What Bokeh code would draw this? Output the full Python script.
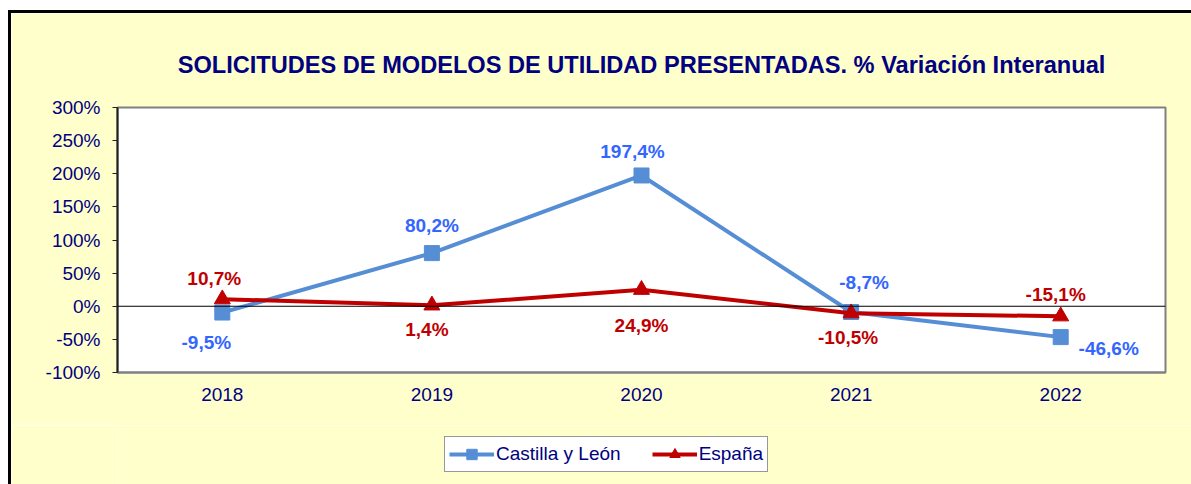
from bokeh.plotting import figure
from bokeh.layouts import column
from bokeh.models import (FactorRange, Range1d, FixedTicker, PrintfTickFormatter,
                          Span, Legend, LegendItem, ColumnDataSource)
from bokeh.core.properties import value
from bokeh.embed import file_html
from bokeh.resources import INLINE

# ---- data ----
years = ["2018", "2019", "2020", "2021", "2022"]
castilla_leon = [-9.5, 80.2, 197.4, -8.7, -46.6]
espana = [10.7, 1.4, 24.9, -10.5, -15.1]
y_ticks = [-100, -50, 0, 50, 100, 150, 200, 250, 300]
series_names = ["Castilla y León", "España"]

# label offsets (screen px)
cyl_dx = [-16, 0, -9, 13, 48]
cyl_dy = [30, -28, -24, -30, 11]
esp_dx = [-8, -5, 0, -3, -5]
esp_dy = [-21, 24, 36, 24, -22]

FONT = "Liberation Sans"
NAVY = "#000080"
BLUE_LINE = "#558ED5"
BLUE_TXT = "#3366FF"
RED = "#C00000"
BG = "#FFFFCC"


def fmt(v):
    return f"{v:.1f}".replace(".", ",") + "%"


p = figure(x_range=FactorRange(factors=years, range_padding=0),
           y_range=Range1d(-100, 300),
           frame_width=1045, frame_height=262,
           min_border_left=106, min_border_right=29,
           min_border_top=94, min_border_bottom=56,
           output_backend="svg", toolbar_location=None,
           title="SOLICITUDES DE MODELOS DE UTILIDAD PRESENTADAS. % Variación Interanual")

p.styles = {"border-left": "3px solid black", "border-top": "3px solid black",
            "margin-top": "10px", "margin-left": "8px"}
p.background_fill_color = "white"
p.border_fill_color = BG
p.outline_line_color = "#808080"
p.outline_line_width = 2
p.xgrid.visible = False
p.ygrid.visible = False

p.title.align = "center"
p.title.text_font = FONT
p.title.text_font_size = "23.6px"
p.title.text_font_style = "bold"
p.title.text_color = NAVY
p.title.standoff = 59

# axes
p.yaxis.ticker = FixedTicker(ticks=y_ticks)
p.yaxis.formatter = PrintfTickFormatter(format="%d%%")
p.yaxis.major_label_text_font = FONT
p.yaxis.major_label_text_font_size = "19px"
p.yaxis.major_label_text_color = NAVY
p.yaxis.axis_line_color = "#202020"
p.yaxis.axis_line_width = 2
p.yaxis.major_tick_line_color = "#202020"
p.yaxis.major_tick_out = 5
p.yaxis.major_tick_in = 0
p.yaxis.minor_tick_line_color = None
p.yaxis.major_label_standoff = 12

p.xaxis.major_label_text_font = FONT
p.xaxis.major_label_text_font_size = "19px"
p.xaxis.major_label_text_color = NAVY
p.xaxis.axis_line_color = "#808080"
p.xaxis.axis_line_width = 2
p.xaxis.major_tick_line_color = None
p.xaxis.major_tick_out = 0
p.xaxis.major_label_standoff = 15

p.add_layout(Span(location=0, dimension="width", line_color="black", line_width=1))

src_c = ColumnDataSource(dict(x=years, y=castilla_leon, t=[fmt(v) for v in castilla_leon],
                              dx=cyl_dx, dy=cyl_dy))
src_e = ColumnDataSource(dict(x=years, y=espana, t=[fmt(v) for v in espana],
                              dx=esp_dx, dy=esp_dy))

p.line("x", "y", source=src_c, line_color=BLUE_LINE, line_width=4)
p.scatter("x", "y", source=src_c, marker="square", size=15,
          fill_color=BLUE_LINE, line_color=BLUE_LINE)
p.line("x", "y", source=src_e, line_color=RED, line_width=4)
p.scatter("x", "y", source=src_e, marker="triangle", size=16,
          fill_color=RED, line_color=RED)

p.text("x", "y", text="t", source=src_c, x_offset="dx", y_offset="dy",
       text_align="center", text_baseline="middle", text_font=value(FONT),
       text_font_size="19px", text_font_style="bold", text_color=BLUE_TXT)
p.text("x", "y", text="t", source=src_e, x_offset="dx", y_offset="dy",
       text_align="center", text_baseline="middle", text_font=value(FONT),
       text_font_size="19px", text_font_style="bold", text_color=RED)

# ---- legend strip (separate figure under the chart) ----
q = figure(frame_width=1180, frame_height=59,
           min_border_left=0, min_border_right=0, min_border_top=0, min_border_bottom=0,
           x_range=Range1d(0, 1), y_range=Range1d(0, 1),
           x_axis_location=None, y_axis_location=None,
           output_backend="svg", toolbar_location=None)
q.styles = {"border-left": "3px solid black", "margin-left": "8px"}
q.background_fill_color = BG
q.border_fill_color = BG
q.outline_line_color = None
q.xgrid.visible = False
q.ygrid.visible = False

# same series, drawn out of this strip's view: only their legend swatches show
yrs_num = [int(y) for y in years]
qsrc_c = ColumnDataSource(dict(x=yrs_num, y=castilla_leon))
qsrc_e = ColumnDataSource(dict(x=yrs_num, y=espana))
ql1 = q.line("x", "y", source=qsrc_c, line_color=BLUE_LINE, line_width=4)
qm1 = q.scatter("x", "y", source=qsrc_c, marker="square", size=12,
                fill_color=BLUE_LINE, line_color=BLUE_LINE)
ql2 = q.line("x", "y", source=qsrc_e, line_color=RED, line_width=4)
qm2 = q.scatter("x", "y", source=qsrc_e, marker="triangle", size=12,
                fill_color=RED, line_color=RED)

legend = Legend(items=[LegendItem(label=series_names[0], renderers=[ql1, qm1]),
                       LegendItem(label=series_names[1], renderers=[ql2, qm2])],
                orientation="horizontal", location=(433, 12),
                padding=4, spacing=31, glyph_width=45, glyph_height=26,
                label_standoff=2, label_text_font=FONT, label_text_font_size="19px",
                label_text_color=NAVY, border_line_color="#303030", border_line_width=1,
                background_fill_color="white", background_fill_alpha=1, margin=0)
q.add_layout(legend)

layout = column(p, q, spacing=0)

open("out.html", "w").write(file_html(layout, INLINE))
